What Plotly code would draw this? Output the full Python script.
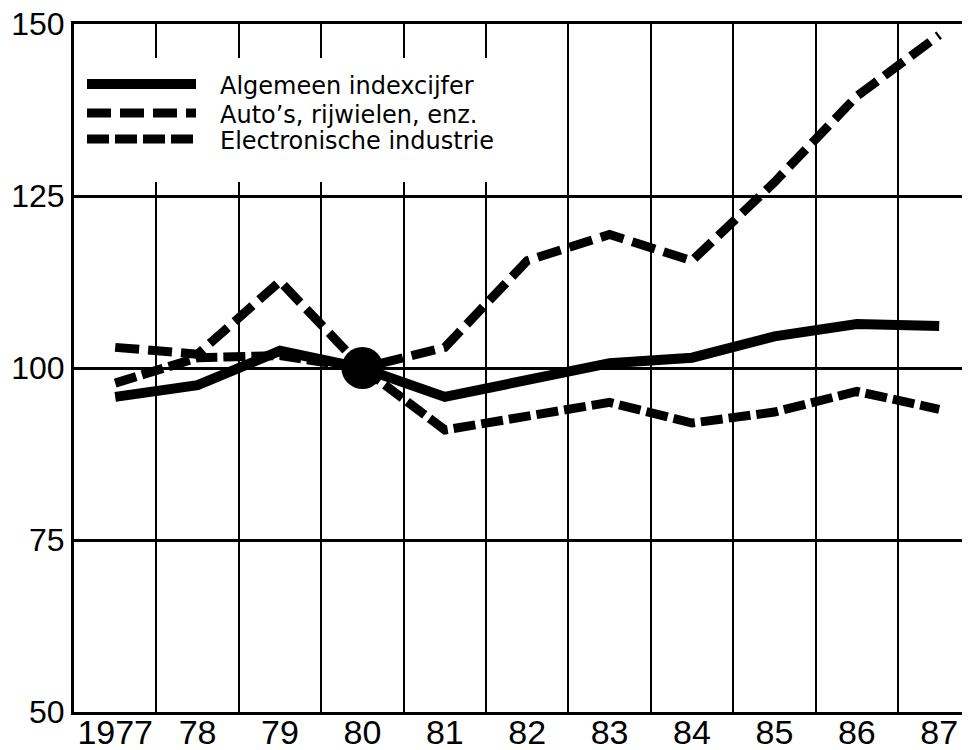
import plotly.graph_objects as go

# ---- data (index, 1980 = 100) ----
years = [1977, 1978, 1979, 1980, 1981, 1982, 1983, 1984, 1985, 1986, 1987]
year_labels = ["1977", "78", "79", "80", "81", "82", "83", "84", "85", "86", "87"]
algemeen = [95.8, 97.5, 102.5, 100.0, 95.8, 98.2, 100.7, 101.5, 104.6, 106.4, 106.1]
autos = [103.0, 102.0, 112.6, 100.0, 103.0, 115.6, 119.4, 115.6, 127.0, 139.5, 148.4]
electronics = [97.8, 101.5, 101.8, 100.0, 91.0, 92.9, 95.0, 92.0, 93.6, 96.6, 94.0]
base_year = [1980]
base_value = [100]

series_names = ["Algemeen indexcijfer", "Auto\u2019s, rijwielen, enz.", "Electronische industrie"]
y_ticks = [50, 75, 100, 125, 150]

# ---- geometry (page body has an 8px margin) ----
OFF = 8
W, H = 970 - OFF, 750 - OFF
L, R, T, B = 74 - OFF, 0, 24 - OFF, 750 - 712
pw, ph = W - L - R, H - T - B
x0 = years[0] - 0.5
px_per_year = 82.4
x1 = x0 + pw / px_per_year

def xp(px):  # px in viewport coords
    return (px - 74) / pw

def yp(py):
    return (712 - py) / ph

fig = go.Figure()

fig.add_trace(go.Scatter(x=years, y=algemeen, mode="lines", name=series_names[0],
                         line=dict(color="black", width=10), showlegend=False))
fig.add_trace(go.Scatter(x=years, y=autos, mode="lines", name=series_names[1],
                         line=dict(color="black", width=9, dash="24px,9px"), showlegend=False))
fig.add_trace(go.Scatter(x=years, y=electronics, mode="lines", name=series_names[2],
                         line=dict(color="black", width=9, dash="22px,6px"), showlegend=False))
fig.add_trace(go.Scatter(x=base_year, y=base_value, mode="markers",
                         marker=dict(color="black", size=42), showlegend=False))

half_years = [y + 0.5 for y in years[:-1]]

fig.update_xaxes(
    range=[x0, x1], tickmode="array", tickvals=years, ticktext=year_labels,
    showgrid=False, zeroline=False, showline=True, mirror=True,
    linecolor="black", linewidth=3, ticks="", automargin=False,
    ticklabelstandoff=-12, ticklabeloverflow="allow",
    tickfont=dict(family="Liberation Sans, Arial, sans-serif", size=34, color="black"),
    minor=dict(tickmode="array", tickvals=half_years, showgrid=True,
               gridcolor="black", gridwidth=1.6, ticks=""),
)
fig.update_yaxes(
    range=[50, 150], tickmode="array", tickvals=y_ticks,
    showgrid=True, gridcolor="black", gridwidth=2.5, zeroline=False,
    showline=True, linecolor="black", linewidth=3, ticks="", automargin=False,
    ticklabelstandoff=0, ticklabeloverflow="allow",
    tickfont=dict(family="Liberation Sans, Arial, sans-serif", size=32, color="black"),
)

# legend box (white, hides grid)
shapes = [dict(type="rect", xref="paper", yref="paper",
               x0=xp(76), x1=xp(530), y0=yp(182), y1=yp(58),
               fillcolor="white", line=dict(width=0), layer="above")]
rows_y = [84, 113, 139]
dashes = ["solid", "24px,9px", "22px,6px"]
widths = [10, 9, 9]
annotations = []
for i in range(3):
    shapes.append(dict(type="line", xref="paper", yref="paper",
                       x0=xp(87), x1=xp(196), y0=yp(rows_y[i]), y1=yp(rows_y[i]),
                       line=dict(color="black", width=widths[i], dash=dashes[i]),
                       layer="above"))
    annotations.append(dict(xref="paper", yref="paper", x=xp(218), y=yp(rows_y[i] + 2),
                            text=series_names[i], showarrow=False, xanchor="left",
                            yanchor="middle",
                            font=dict(family="DejaVu Sans, sans-serif", size=24, color="black")))

fig.update_layout(
    width=W, height=H, margin=dict(l=L, r=R, t=T, b=B, pad=0, autoexpand=False),
    paper_bgcolor="white", plot_bgcolor="white",
    shapes=shapes, annotations=annotations, showlegend=False,
)

fig.write_html("out.html")
